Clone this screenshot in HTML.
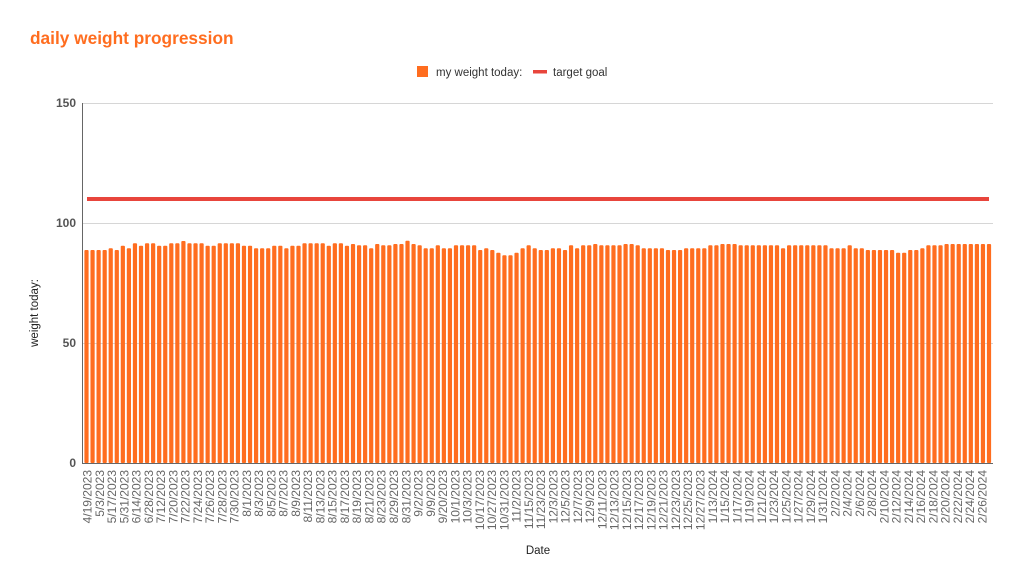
<!DOCTYPE html>
<html><head><meta charset="utf-8"><style>
html,body{margin:0;padding:0;background:#fff;}
svg{display:block;font-family:"Liberation Sans",Arial,sans-serif;}
</style></head><body>
<svg id="s" width="1023" height="585" viewBox="0 0 1023 585" xmlns="http://www.w3.org/2000/svg">
<text x="30" y="44" font-size="17.3" font-weight="bold" fill="#ff6d1f">daily weight progression</text>
<rect x="417" y="66" width="11" height="11" fill="#ff6d1f"/>
<text x="436" y="76" font-size="11.5" fill="#333">my weight today:</text>
<rect x="533" y="70" width="14" height="3.5" fill="#e8453c"/>
<text x="553" y="76" font-size="11.5" fill="#333">target goal</text>
<g stroke="#d6d6d6" stroke-width="1">
<line x1="82" y1="103.5" x2="993" y2="103.5"/>
<line x1="82" y1="223.5" x2="993" y2="223.5"/>
<line x1="82" y1="343.5" x2="993" y2="343.5"/>
</g>
<g font-size="12" font-weight="bold" fill="#555" text-anchor="end">
<text x="76" y="107">150</text>
<text x="76" y="227">100</text>
<text x="76" y="347">50</text>
<text x="76" y="467">0</text>
</g>
<text transform="translate(38,313) rotate(-90)" font-size="11.5" fill="#222" text-anchor="middle">weight today:</text>
<text x="538" y="554" font-size="11.5" fill="#222" text-anchor="middle">Date</text>
<g id="bars" fill="#ff6d1f"></g>
<rect x="87" y="197" width="902" height="4" fill="#e8453c"/>
<line x1="82.5" y1="103" x2="82.5" y2="463" stroke="#666" stroke-width="1"/>
<line x1="82" y1="463.5" x2="993" y2="463.5" stroke="#666" stroke-width="1"/>
<g font-size="12" fill="#666" text-anchor="end">
<text transform="translate(91.5,470) rotate(-90)">4/19/2023</text>
<text transform="translate(103.8,470) rotate(-90)">5/3/2023</text>
<text transform="translate(116,470) rotate(-90)">5/17/2023</text>
<text transform="translate(128.3,470) rotate(-90)">5/31/2023</text>
<text transform="translate(140.5,470) rotate(-90)">6/14/2023</text>
<text transform="translate(152.8,470) rotate(-90)">6/28/2023</text>
<text transform="translate(165.1,470) rotate(-90)">7/12/2023</text>
<text transform="translate(177.3,470) rotate(-90)">7/20/2023</text>
<text transform="translate(189.6,470) rotate(-90)">7/22/2023</text>
<text transform="translate(201.8,470) rotate(-90)">7/24/2023</text>
<text transform="translate(214.1,470) rotate(-90)">7/26/2023</text>
<text transform="translate(226.4,470) rotate(-90)">7/28/2023</text>
<text transform="translate(238.6,470) rotate(-90)">7/30/2023</text>
<text transform="translate(250.9,470) rotate(-90)">8/1/2023</text>
<text transform="translate(263.1,470) rotate(-90)">8/3/2023</text>
<text transform="translate(275.4,470) rotate(-90)">8/5/2023</text>
<text transform="translate(287.7,470) rotate(-90)">8/7/2023</text>
<text transform="translate(299.9,470) rotate(-90)">8/9/2023</text>
<text transform="translate(312.2,470) rotate(-90)">8/11/2023</text>
<text transform="translate(324.4,470) rotate(-90)">8/13/2023</text>
<text transform="translate(336.7,470) rotate(-90)">8/15/2023</text>
<text transform="translate(349,470) rotate(-90)">8/17/2023</text>
<text transform="translate(361.2,470) rotate(-90)">8/19/2023</text>
<text transform="translate(373.5,470) rotate(-90)">8/21/2023</text>
<text transform="translate(385.7,470) rotate(-90)">8/23/2023</text>
<text transform="translate(398,470) rotate(-90)">8/29/2023</text>
<text transform="translate(410.3,470) rotate(-90)">8/31/2023</text>
<text transform="translate(422.5,470) rotate(-90)">9/2/2023</text>
<text transform="translate(434.8,470) rotate(-90)">9/9/2023</text>
<text transform="translate(447,470) rotate(-90)">9/20/2023</text>
<text transform="translate(459.3,470) rotate(-90)">10/1/2023</text>
<text transform="translate(471.6,470) rotate(-90)">10/3/2023</text>
<text transform="translate(483.8,470) rotate(-90)">10/17/2023</text>
<text transform="translate(496.1,470) rotate(-90)">10/27/2023</text>
<text transform="translate(508.3,470) rotate(-90)">10/31/2023</text>
<text transform="translate(520.6,470) rotate(-90)">11/2/2023</text>
<text transform="translate(532.9,470) rotate(-90)">11/15/2023</text>
<text transform="translate(545.1,470) rotate(-90)">11/23/2023</text>
<text transform="translate(557.4,470) rotate(-90)">12/3/2023</text>
<text transform="translate(569.6,470) rotate(-90)">12/5/2023</text>
<text transform="translate(581.9,470) rotate(-90)">12/7/2023</text>
<text transform="translate(594.2,470) rotate(-90)">12/9/2023</text>
<text transform="translate(606.4,470) rotate(-90)">12/11/2023</text>
<text transform="translate(618.7,470) rotate(-90)">12/13/2023</text>
<text transform="translate(630.9,470) rotate(-90)">12/15/2023</text>
<text transform="translate(643.2,470) rotate(-90)">12/17/2023</text>
<text transform="translate(655.5,470) rotate(-90)">12/19/2023</text>
<text transform="translate(667.7,470) rotate(-90)">12/21/2023</text>
<text transform="translate(680,470) rotate(-90)">12/23/2023</text>
<text transform="translate(692.2,470) rotate(-90)">12/25/2023</text>
<text transform="translate(704.5,470) rotate(-90)">12/27/2023</text>
<text transform="translate(716.8,470) rotate(-90)">1/13/2024</text>
<text transform="translate(729,470) rotate(-90)">1/15/2024</text>
<text transform="translate(741.3,470) rotate(-90)">1/17/2024</text>
<text transform="translate(753.5,470) rotate(-90)">1/19/2024</text>
<text transform="translate(765.8,470) rotate(-90)">1/21/2024</text>
<text transform="translate(778.1,470) rotate(-90)">1/23/2024</text>
<text transform="translate(790.3,470) rotate(-90)">1/25/2024</text>
<text transform="translate(802.6,470) rotate(-90)">1/27/2024</text>
<text transform="translate(814.8,470) rotate(-90)">1/29/2024</text>
<text transform="translate(827.1,470) rotate(-90)">1/31/2024</text>
<text transform="translate(839.4,470) rotate(-90)">2/2/2024</text>
<text transform="translate(851.6,470) rotate(-90)">2/4/2024</text>
<text transform="translate(863.9,470) rotate(-90)">2/6/2024</text>
<text transform="translate(876.1,470) rotate(-90)">2/8/2024</text>
<text transform="translate(888.4,470) rotate(-90)">2/10/2024</text>
<text transform="translate(900.7,470) rotate(-90)">2/12/2024</text>
<text transform="translate(912.9,470) rotate(-90)">2/14/2024</text>
<text transform="translate(925.2,470) rotate(-90)">2/16/2024</text>
<text transform="translate(937.4,470) rotate(-90)">2/18/2024</text>
<text transform="translate(949.7,470) rotate(-90)">2/20/2024</text>
<text transform="translate(962,470) rotate(-90)">2/22/2024</text>
<text transform="translate(974.2,470) rotate(-90)">2/24/2024</text>
<text transform="translate(986.5,470) rotate(-90)">2/26/2024</text>
</g>
</svg>
<script>
var z1=[210,210,210,210,205,210,197,205,190,197,190,190,197,197,190,190,183,190,190,190,197,197,190,190,190,190,197,197,205,205,205,197,197,205,197,197,190,190,190,190,197,190,190,197];
var z5=[42,46,46,55,42,46,46,42,42,32,42,46,55,55,46,55,55,46,46,46,46,60,55,60,68,76,76,68,55,46,55,60,60,55,55,60,46,55,46,46,42,46,46,46,46,42,42,46,55,55,55,55,60,60];
var z6=[60,55,55,55,55,46,46,42,42,42,46,46,46,46,46,46,46,55,46,46,46,46,46,46,46,55,55,55,46,55,55,60,60,60,60,60,68,68,60,60,55,46,46,46,42,42,42,42,42,42,42,42];
var t=[];z1.forEach(function(z){t.push(180+z/3)});z5.concat(z6).forEach(function(z){t.push(230+z/3)});
var g=document.getElementById('bars'),n=t.length,p=(989-86.5)/(n-1),h='';
for(var i=0;i<n;i++){var x=86.5+i*p-2.1;h+='<rect x="'+x.toFixed(2)+'" y="'+t[i].toFixed(1)+'" width="4.2" height="'+(463-t[i]).toFixed(1)+'" rx="1"/>';}
g.innerHTML=h;
</script>
</body></html>
